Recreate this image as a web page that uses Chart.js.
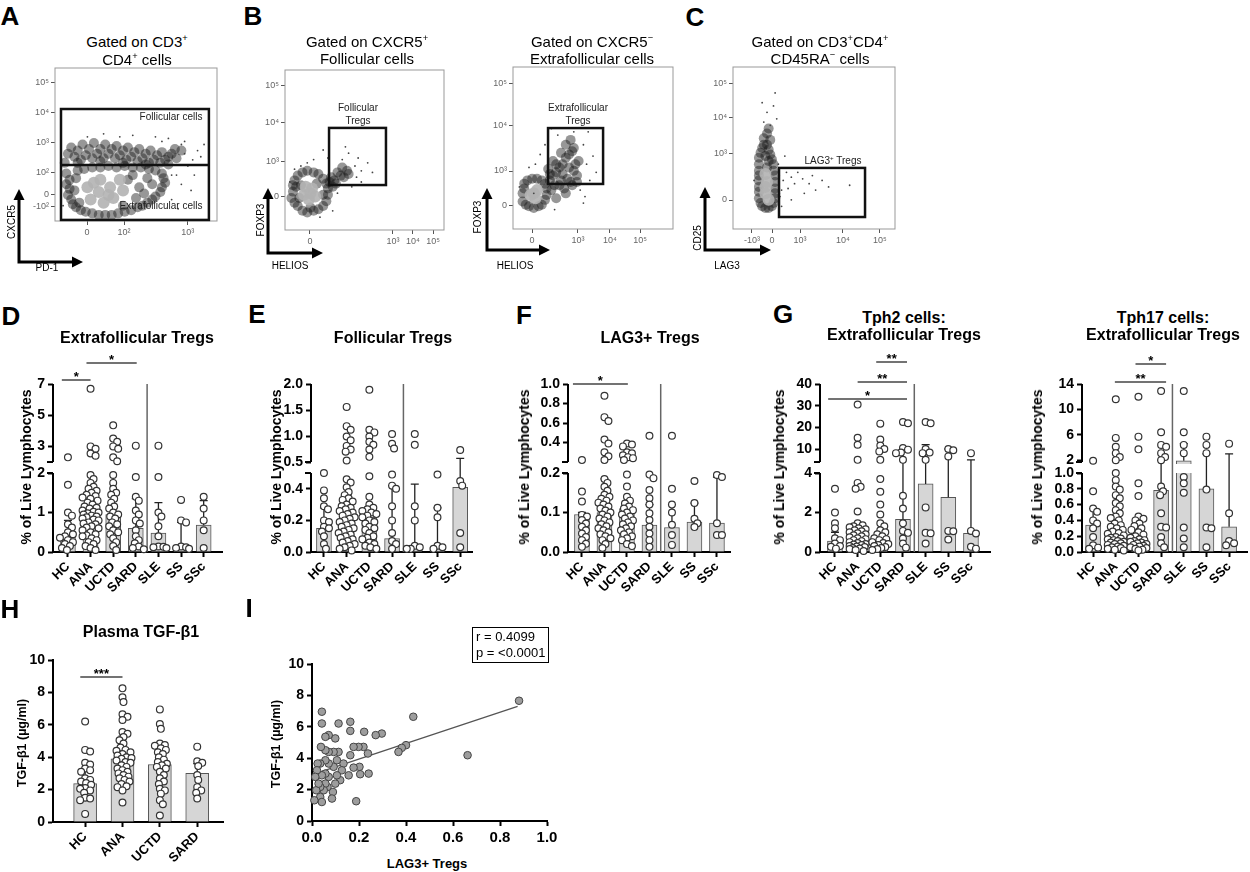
<!DOCTYPE html>
<html>
<head>
<meta charset="utf-8">
<script src="https://cdn.jsdelivr.net/npm/chart.js@4.4.1/dist/chart.umd.min.js"></script>
<style>
body { margin:0; background:#fff; width:1250px; height:872px; overflow:hidden; position:relative;
       font-family:"Liberation Sans", Arial, Helvetica, sans-serif; }
canvas { position:absolute; }
.t { position:absolute; white-space:nowrap; transform:translate(-50%,-50%); line-height:1; color:#000; z-index:2; }
sup { font-size:62%; vertical-align:super; line-height:0; }
.box { position:absolute; border:1.5px solid #000; z-index:2; font-size:13px; line-height:16px; padding:1px 3px; }
</style>
</head>
<body>
<script>
const FONT = '"Liberation Sans", Arial, Helvetica, sans-serif';

// ---- data ----
const cats = ['HC', 'ANA', 'UCTD', 'SARD', 'SLE', 'SS', 'SSc'];
const catsH = ['HC', 'ANA', 'UCTD', 'SARD'];

// D: Extrafollicular Tregs (% of live lymphocytes)
const extraPts = [
  [2.3, 1.7, 1.0, 0.92, 0.7, 0.62, 0.5, 0.45, 0.4, 0.36, 0.3, 0.25, 0.2, 0.15, 0.1, 0.05],
  [6.7, 3.0, 2.85, 2.55, 2.4, 1.95, 1.85, 1.75, 1.65, 1.6, 1.55, 1.5, 1.45, 1.42, 1.38, 1.35, 1.3, 1.25, 1.2, 1.15, 1.12, 1.1, 1.05, 1.02, 1.0, 0.98, 0.95, 0.92, 0.9, 0.88, 0.85, 0.82, 0.8, 0.75, 0.72, 0.7, 0.65, 0.62, 0.6, 0.55, 0.5, 0.45, 0.42, 0.4, 0.35, 0.3, 0.25, 0.2, 0.15, 0.1, 0.05],
  [4.35, 3.5, 3.3, 3.0, 2.85, 2.3, 2.05, 1.95, 1.75, 1.6, 1.5, 1.45, 1.35, 1.25, 1.15, 1.1, 1.0, 0.95, 0.9, 0.85, 0.75, 0.7, 0.65, 0.55, 0.5, 0.45, 0.35, 0.25, 0.15, 0.05],
  [3.05, 1.9, 1.4, 1.3, 1.05, 0.95, 0.8, 0.72, 0.55, 0.4, 0.3, 0.22, 0.14, 0.1, 0.07],
  [3.05, 1.9, 1.0, 0.9, 0.65, 0.4, 0.14, 0.13, 0.12, 0.1],
  [1.32, 0.8, 0.75, 0.14, 0.12, 0.1, 0.08],
  [1.4, 1.1, 0.8, 0.55, 0.1]
];
const extraMed = [0.4, 0.95, 0.95, 0.6, 0.48, 0.17, 0.68];
const extraHi = [0.8, 1.3, 1.45, 1.35, 1.25, 0.75, 1.3];
const extraTicks = [0, 1, 2, 3, 5, 7];
const extraTickLabels = ['0', '1', '2', '3', '5', '7'];

// E: Follicular Tregs
const follPts = [
  [0.5, 0.39, 0.34, 0.29, 0.27, 0.2, 0.19, 0.16, 0.15, 0.13, 0.1, 0.05, 0.02],
  [1.56, 1.19, 1.12, 0.99, 0.92, 0.81, 0.74, 0.7, 0.53, 0.46, 0.44, 0.41, 0.38, 0.36, 0.34, 0.33, 0.32, 0.3, 0.29, 0.28, 0.27, 0.26, 0.25, 0.24, 0.23, 0.22, 0.21, 0.2, 0.19, 0.18, 0.17, 0.16, 0.15, 0.14, 0.13, 0.12, 0.11, 0.1, 0.09, 0.08, 0.07, 0.06, 0.05, 0.04, 0.03, 0.02, 0.01],
  [1.89, 1.12, 1.07, 0.99, 0.89, 0.83, 0.74, 0.6, 0.48, 0.35, 0.3, 0.28, 0.27, 0.26, 0.25, 0.24, 0.23, 0.22, 0.2, 0.19, 0.18, 0.16, 0.15, 0.14, 0.12, 0.1, 0.09, 0.08, 0.06, 0.05, 0.04, 0.03, 0.02],
  [1.04, 0.85, 0.76, 0.49, 0.42, 0.4, 0.29, 0.2, 0.12, 0.07, 0.05, 0.02],
  [1.04, 0.83, 0.29, 0.2, 0.04, 0.03, 0.02, 0.02],
  [0.49, 0.28, 0.22, 0.04, 0.03, 0.02],
  [0.73, 0.45, 0.42, 0.12, 0.03]
];
const follMed = [0.15, 0.22, 0.22, 0.085, 0.03, 0.03, 0.41];
const follHi = [0.28, 0.28, 0.28, 0.42, 0.43, 0.28, 0.57];
const follTicks = [0, 0.2, 0.4, 0.5001, 1.0, 1.5, 2.0];
const follTickLabels = ['0.0', '0.2', '0.4', '0.5', '1.0', '1.5', '2.0'];

// F: LAG3+ Tregs
const lagPts = [
  [0.22, 0.153, 0.128, 0.094, 0.09, 0.081, 0.072, 0.064, 0.055, 0.047, 0.038, 0.03, 0.021, 0.013],
  [0.88, 0.66, 0.62, 0.43, 0.39, 0.3, 0.26, 0.22, 0.185, 0.175, 0.165, 0.155, 0.145, 0.14, 0.135, 0.13, 0.125, 0.12, 0.115, 0.11, 0.105, 0.1, 0.095, 0.09, 0.085, 0.08, 0.075, 0.07, 0.065, 0.06, 0.055, 0.05, 0.045, 0.04, 0.035, 0.03, 0.02, 0.01],
  [0.39, 0.38, 0.36, 0.3, 0.29, 0.27, 0.25, 0.24, 0.22, 0.196, 0.166, 0.14, 0.13, 0.123, 0.115, 0.11, 0.106, 0.1, 0.095, 0.09, 0.085, 0.08, 0.075, 0.07, 0.065, 0.06, 0.055, 0.05, 0.045, 0.04, 0.035, 0.03, 0.02, 0.015],
  [0.47, 0.196, 0.187, 0.157, 0.136, 0.12, 0.098, 0.081, 0.064, 0.047, 0.03, 0.013],
  [0.47, 0.16, 0.12, 0.1, 0.069, 0.043, 0.018],
  [0.18, 0.124, 0.084, 0.073, 0.063],
  [0.195, 0.19, 0.073, 0.043, 0.043]
];
const lagMed = [0.095, 0.1, 0.11, 0.068, 0.062, 0.076, 0.073];
const lagHi = [0.1, 0.185, 0.13, 0.12, 0.12, 0.124, 0.19];
const lagTicks = [0, 0.1, 0.2, 0.4, 0.6, 0.8, 1.0];
const lagTickLabels = ['0.0', '0.1', '0.2', '0.4', '0.6', '0.8', '1.0'];

// G: Tph2 cells : Extrafollicular Tregs
const tph2Pts = [
  [3.2, 2.0, 1.45, 1.2, 0.7, 0.6, 0.43, 0.3, 0.26, 0.17],
  [30.5, 15.2, 12.0, 5.0, 3.5, 3.3, 3.2, 2.05, 1.45, 1.35, 1.3, 1.25, 1.2, 1.15, 1.1, 1.05, 1.0, 0.95, 0.9, 0.85, 0.8, 0.75, 0.7, 0.65, 0.6, 0.55, 0.5, 0.45, 0.4, 0.38, 0.35, 0.3, 0.28, 0.25, 0.2, 0.18, 0.15, 0.1, 0.05],
  [21.7, 14.4, 11.6, 10.0, 8.9, 5.0, 3.7, 3.05, 2.4, 1.9, 1.45, 1.3, 1.1, 1.0, 0.9, 0.8, 0.7, 0.65, 0.6, 0.5, 0.45, 0.4, 0.35, 0.3, 0.25, 0.2, 0.15, 0.1],
  [22.5, 21.9, 10.5, 9.7, 8.4, 8.1, 5.0, 2.85, 2.2, 1.45, 1.07, 0.97, 0.68, 0.43, 0.22],
  [22.5, 21.9, 10.0, 8.4, 8.1, 5.0, 2.26, 0.97, 0.95, 0.43],
  [10.0, 9.4, 6.6, 1.07, 1.05, 0.63],
  [8.1, 1.07, 0.94, 0.26, 0.17]
];
const tph2Med = [0.55, 0.5, 0.5, 1.65, 3.45, 2.77, 0.94];
const tph2Hi = [1.0, 0.9, 0.9, 9.0, 12.0, 10.0, 5.0];
const tph2Ticks = [0, 2, 4, 10, 20, 30, 40];
const tph2TickLabels = ['0', '2', '4', '10', '20', '30', '40'];

// G: Tph17 cells : Extrafollicular Tregs
const tph17Pts = [
  [1.9, 0.77, 0.55, 0.51, 0.4, 0.36, 0.3, 0.19, 0.085, 0.055, 0.04],
  [11.6, 5.5, 4.1, 3.1, 2.5, 2.0, 1.0, 0.91, 0.83, 0.79, 0.72, 0.68, 0.62, 0.58, 0.53, 0.49, 0.45, 0.43, 0.4, 0.36, 0.34, 0.32, 0.3, 0.28, 0.26, 0.24, 0.23, 0.21, 0.19, 0.18, 0.17, 0.16, 0.15, 0.14, 0.13, 0.12, 0.11, 0.1, 0.09, 0.08, 0.07, 0.06, 0.05, 0.04, 0.03, 0.02],
  [12.0, 5.7, 3.7, 0.87, 0.71, 0.45, 0.42, 0.4, 0.36, 0.33, 0.3, 0.28, 0.25, 0.22, 0.2, 0.18, 0.16, 0.15, 0.14, 0.13, 0.12, 0.11, 0.1, 0.09, 0.08, 0.07, 0.06, 0.05, 0.04, 0.03, 0.02],
  [12.9, 6.4, 4.4, 4.1, 3.1, 2.5, 2.0, 0.83, 0.77, 0.72, 0.49, 0.32, 0.31, 0.19, 0.11, 0.06],
  [12.9, 6.4, 4.4, 3.1, 0.95, 0.87, 0.75, 0.31, 0.17, 0.06],
  [5.7, 4.4, 3.1, 0.79, 0.31, 0.3, 0.06],
  [4.6, 0.49, 0.14, 0.11, 0.085]
];
const tph17Med = [0.34, 0.13, 0.12, 0.78, 1.9, 0.8, 0.32];
const tph17Hi = [0.55, 0.3, 0.3, 2.0, 4.6, 3.0, 3.0];
const tph17Ticks = [0, 0.2, 0.4, 0.6, 0.8, 1.0, 2, 6, 10, 14];
const tph17TickLabels = ['0.0', '0.2', '0.4', '0.6', '0.8', '1.0', '2', '6', '10', '14'];

// H: Plasma TGF-b1 (ug/ml)
const tgfPts = [
  [6.2, 4.45, 4.35, 3.65, 3.55, 3.3, 3.2, 3.1, 2.7, 2.6, 2.5, 2.4, 2.3, 2.1, 2.05, 1.95, 1.8, 1.5, 1.45, 1.35, 0.5],
  [8.25, 7.7, 7.4, 6.65, 6.5, 6.3, 5.55, 5.45, 5.25, 5.05, 4.85, 4.6, 4.45, 4.4, 4.3, 4.2, 4.1, 4.0, 3.95, 3.9, 3.8, 3.7, 3.65, 3.5, 3.4, 3.3, 3.2, 3.1, 3.0, 2.9, 2.8, 2.7, 2.6, 2.5, 2.35, 2.2, 2.15, 1.95, 1.2],
  [6.95, 6.05, 5.75, 4.85, 4.75, 4.7, 4.55, 4.45, 4.3, 4.2, 4.0, 3.85, 3.7, 3.6, 3.5, 3.4, 3.3, 3.1, 2.9, 2.7, 2.5, 2.35, 2.05, 1.95, 1.75, 1.35, 1.1, 0.4],
  [4.65, 3.75, 3.65, 3.45, 2.9, 2.6, 2.15, 1.95, 1.8, 1.45]
];
const tgfMed = [2.37, 3.9, 3.55, 3.0];
const tgfLo = [1.45, 2.7, 2.4, 1.95];
const tgfHi = [3.2, 5.3, 4.6, 3.6];
const tgfTicks = [0, 2, 4, 6, 8, 10];

// I: LAG3+ Tregs vs TGF-b1
const corrX = [0.881, 0.431, 0.662, 0.40, 0.382, 0.368, 0.297, 0.271, 0.222, 0.238, 0.241, 0.219, 0.198, 0.202, 0.205, 0.177, 0.177, 0.156, 0.188, 0.163, 0.163, 0.163, 0.134, 0.127, 0.12, 0.113, 0.113, 0.106, 0.106, 0.099, 0.099, 0.092, 0.092, 0.089, 0.085, 0.071, 0.071, 0.071, 0.071, 0.066, 0.057, 0.057, 0.057, 0.057, 0.057, 0.05, 0.042, 0.042, 0.038, 0.035, 0.042, 0.035, 0.035, 0.042, 0.024, 0.021, 0.018, 0.01, 0.014, 0.028];
const corrY = [7.66, 6.64, 4.19, 4.83, 4.66, 4.40, 5.57, 5.47, 5.68, 4.30, 3.02, 4.72, 4.72, 3.45, 2.98, 4.72, 3.40, 2.91, 1.26, 6.32, 5.74, 4.19, 3.66, 3.23, 2.60, 6.21, 4.40, 3.87, 2.91, 5.26, 2.38, 4.40, 3.45, 1.85, 1.43, 5.47, 4.40, 3.66, 2.81, 2.17, 5.36, 4.51, 3.87, 3.02, 2.38, 1.96, 6.96, 6.21, 4.72, 3.66, 2.91, 2.17, 1.53, 1.21, 3.66, 3.23, 1.96, 1.32, 2.81, 2.38];
const fitLine = [{x: 0.01, y: 3.0}, {x: 0.875, y: 7.3}];

// A-C flow plots, positions in display channels (0-100)
const flowAxT = [19.8, 42.6, 82], flowAxL = ['0', '10²', '10³'];
const flowAyT = [90.8, 71.2, 51.6, 32, 17, 9.2], flowAyL = ['10⁵', '10⁴', '10³', '10²', '0', '-10²'];
const flowAdense = [[10,48],[17,50],[24,51],[31,50],[38,49],[45,48],[52,47],[59,46],[66,45],[72,44],[12,42],[19,43],[26,44],[33,44],[40,43],[47,42],[54,41],[61,40],[68,40],[75,41],[14,38],[28,39],[42,38],[56,37],[70,37],
  [14,46],[21,47],[28,47],[35,47],[42,46],[49,45],[56,44],[63,43],[70,42],[16,40],[23,41],[30,41],[37,41],[44,40],[51,39],[58,38],[65,38],[8,44],[6,38],[78,46],[74,47],
  [7,31],[7,24],[8,17],[11,11],[16,7],[23,5],[31,4],[39,5],[47,7],[54,10],[60,14],[65,19],[68,25],[66,31],[58,34],[48,35],[38,35],[28,35],[18,34],[13,28],[45,27],[52,22],[57,28],[50,15],[42,10],[15,12],
  [9,27],[9,21],[10,14],[13,9],[19,6],[27,4],[35,4],[43,6],[51,9],[57,12],[62,16],[66,22],[67,28],[62,33],[53,35],[43,36],[33,36],[23,35],[14,33],[12,20],[55,18],[48,30],[60,24]];
const flowAcore = [[20,22],[27,19],[34,22],[28,27],[22,14],[36,15],[42,20],[30,12],[40,27],[24,25],[33,17]];
const flowAsparse = [[80,44],[85,40],[78,50],[88,46],[82,36],[75,30],[78,24],[72,14],[90,42],[62,55],[48,56],[30,57],[20,55],[86,30],[92,50],[70,54],[76,8],[84,20],[4,40],[5,10],[72,30],[80,52],[66,52],[40,55]];

const flowB1xT = [15.7, 67.9, 80.5, 93.1], flowB1xL = ['0', '10³', '10⁴', '10⁵'];
const flowB1yT = [90.6, 66.9, 43.1, 21.2], flowB1yL = ['10⁵', '10⁴', '10³', '0'];
const flowB1dense = [[5,24],[6,31],[11,36],[18,36],[24,32],[27,26],[26,18],[21,13],[14,11],[8,15],[4,20],[10,28],[20,29],[24,22],[9,20],[16,14],[29,33],[33,36],[37,33],[32,29],[36,39],[40,35],[30,27],
  [7,27],[8,34],[14,37],[21,35],[26,29],[27,22],[24,15],[18,12],[11,12],[6,17],[5,28],[31,31],[35,34],[39,37],[28,30]];
const flowB1core = [[12,22],[17,26],[15,19],[19,21],[13,27],[16,23]];
const flowB1sparse = [[44,40],[48,37],[36,44],[27,45],[18,44],[42,27],[45,33],[52,42],[40,48],[24,50],[55,36],[33,23],[10,40],[6,38],[22,8],[30,12],[48,30],[38,52],[3,30],[14,42],[46,45]];

const flowB2xT = [11.9, 40.6, 60.6, 79.4], flowB2xL = ['0', '10³', '10⁴', '10⁵'];
const flowB2yT = [90.1, 63.6, 35.8, 14.8], flowB2yL = ['10⁵', '10⁴', '10³', '0'];
const flowB2dense = [[6,22],[7,28],[12,31],[18,30],[21,25],[20,18],[16,14],[10,14],[6,17],[23,30],[27,35],[31,40],[35,46],[38,50],[29,27],[34,31],[38,36],[41,42],[25,42],[22,37],[33,22],[37,27],[27,19],[30,47],[36,55],[40,29],[24,24],[31,34],
  [7,25],[9,30],[15,31],[20,28],[21,21],[18,15],[13,13],[8,15],[25,33],[29,38],[33,44],[37,48],[32,25],[36,29],[40,33],[39,40],[27,40],[23,34],[35,38],[30,30],[26,27],[33,52]];
const flowB2core = [[13,22],[15,24],[11,21],[14,19]];
const flowB2sparse = [[44,52],[17,46],[42,24],[46,40],[20,52],[28,58],[47,60],[14,40],[44,16],[50,45],[38,60],[10,38],[26,12],[52,35],[24,62],[48,30],[13,22],[4,26],[45,20]];

const flowCxT = [11.7, 24.1, 41.4, 67.9, 90.7], flowCxL = ['-10³', '0', '10³', '10⁴', '10⁵'];
const flowCyT = [90.1, 69.1, 46.9, 17.9], flowCyL = ['10⁵', '10⁴', '10³', '0'];
const flowCdense = [[18,14],[22,13],[25,16],[26,22],[26,29],[25,36],[24,43],[22,49],[19,52],[17,47],[16,40],[16,33],[16,26],[16,19],[21,38],[20,45],[23,55],[21,59],
  [17,16],[20,13],[24,14],[26,19],[26,25],[26,33],[25,40],[23,46],[21,52],[18,50],[16,44],[16,36],[16,30],[16,23],[22,42],[19,56],[22,62]];
const flowCcore = [[20,22],[21,29],[20,34],[22,18],[20,26]];
const flowCsparse = [[31,30],[34,25],[38,28],[44,22],[51,24],[59,26],[33,35],[29,20],[43,31],[72,27],[23,64],[27,68],[21,72],[28,40],[36,18],[47,28],[40,35],[55,30],[30,14],[25,76],[19,66],[26,84],[18,78],[32,45],[13,30],[30,24],[36,32],[49,33]];

// ---- setup ----
Chart.defaults.font.family = FONT;
Chart.defaults.color = '#000';
Chart.defaults.animation = false;
Chart.defaults.plugins.legend.display = false;
Chart.defaults.plugins.tooltip.enabled = false;

function segBounds(segs, gap, top, bottom) {
  const avail = bottom - top - gap * (segs.length - 1);
  let base = bottom;
  const out = [];
  segs.forEach(s => { const h = avail * s.frac; out.push([base, base - h]); base -= h + gap; });
  return out;
}
function segPixel(segs, gap, top, bottom, v) {
  const bd = segBounds(segs, gap, top, bottom);
  for (let i = 0; i < segs.length; i++) {
    const s = segs[i];
    if (v <= s.max || i === segs.length - 1) {
      const w = i > 0 ? Math.max(v, s.min) : v;
      return bd[i][0] - (w - s.min) / (s.max - s.min) * (bd[i][0] - bd[i][1]);
    }
  }
}

// linear scale with a gap (broken y axis)
class BrokenScale extends Chart.LinearScale {
  static id = 'broken';
  static defaults = {};
  brk() { return this.chart.config.options.scales[this.id].broken; }
  determineDataLimits() {
    const b = this.brk();
    this.min = b.segs[0].min;
    this.max = b.segs[b.segs.length - 1].max;
  }
  buildTicks() {
    this.start = this.min; this.end = this.max;
    return this.brk().ticks.map(v => ({value: v}));
  }
  getPixelForValue(v) {
    const b = this.brk();
    return segPixel(b.segs, b.gap, this.top, this.bottom, v);
  }
  getValueForPixel(p) {
    const b = this.brk();
    const bd = segBounds(b.segs, b.gap, this.top, this.bottom);
    for (let i = 0; i < bd.length; i++) {
      if (p >= bd[i][1] || i === bd.length - 1) {
        const s = b.segs[i];
        return s.min + (bd[i][0] - p) / (bd[i][0] - bd[i][1]) * (s.max - s.min);
      }
    }
  }
}
Chart.register(BrokenScale);

function addCanvas(box) {
  const c = document.createElement('canvas');
  c.width = box.r - box.l; c.height = box.b - box.t;
  c.style.left = box.l + 'px'; c.style.top = box.t + 'px';
  c.style.width = (box.r - box.l) + 'px'; c.style.height = (box.b - box.t) + 'px';
  document.body.appendChild(c);
  return c;
}
function pad(box, area, yW, xH) {
  return {left: area.l - box.l - yW, right: box.r - area.r, top: area.t - box.t, bottom: box.b - area.b - xH};
}

function txt(html, x, y, size, opt = {}) {
  const d = document.createElement('div');
  d.className = 't';
  d.innerHTML = html;
  d.style.left = x + 'px'; d.style.top = y + 'px';
  d.style.fontSize = size + 'px';
  if (opt.bold) d.style.fontWeight = 'bold';
  if (opt.color) d.style.color = opt.color;
  if (opt.rot) d.style.transform = 'translate(-50%,-50%) rotate(' + opt.rot + 'deg)';
  document.body.appendChild(d);
}

// simple beeswarm so dots do not pile on one x
function swarm(vals, idx, toPy, pxX, r, maxOff) {
  const placed = [], out = [];
  const order = vals.map((v, i) => i).sort((a, b) => vals[b] - vals[a]);
  order.forEach(i => {
    const py = toPy(vals[i]);
    let best = 0, bestD = -1;
    for (let k = 0; k <= 2 * maxOff; k++) {
      const off = (k % 2 ? 1 : -1) * Math.ceil(k / 2);
      let d = Infinity;
      placed.forEach(p => { d = Math.min(d, Math.hypot(p[0] - off, p[1] - py)); });
      if (d >= 1.45 * r) { best = off; bestD = d; break; }
      if (d > bestD) { bestD = d; best = off; }
    }
    placed.push([best, py]);
    out.push({x: idx + best / pxX, y: vals[i]});
  });
  return out;
}

function barPanel(p) {
  const yW = 30, xH = 40;
  const box = {l: p.area.l - 50, t: p.area.t - 40, r: p.area.r + 6, b: p.area.b + 55};
  const cv = addCanvas(box);
  const pxX = (p.area.r - p.area.l) / (p.xmax - p.xmin);
  const toPy = p.segs ? v => segPixel(p.segs, p.gap, p.area.t, p.area.b, v)
                      : v => p.area.b - (v - p.ymin) / (p.ymax - p.ymin) * (p.area.b - p.area.t);
  let pts = [];
  p.pts.forEach((vals, i) => { pts = pts.concat(swarm(vals, i, toPy, pxX, 3.4, p.spread)); });

  const yScale = p.segs
    ? {type: 'broken', broken: {segs: p.segs, gap: p.gap, ticks: p.ticks}}
    : {type: 'linear', min: p.ymin, max: p.ymax, afterBuildTicks: s => { s.ticks = p.ticks.map(v => ({value: v})); }};
  Object.assign(yScale, {
    border: {display: !p.segs, color: '#000', width: 2},
    grid: {drawOnChartArea: false, color: '#000', tickColor: '#000', tickLength: 5, tickWidth: 2},
    ticks: {autoSkip: false, padding: 3, color: '#000', font: {size: 14, weight: 'bold'},
            callback: (v, i) => p.tickLabels[i]},
    afterFit: s => { s.width = yW; s.paddingTop = 0; s.paddingBottom = 0; }
  });

  const deco = {
    id: 'deco',
    beforeDatasetsDraw(chart) {
      const ctx = chart.ctx, a = chart.chartArea, xs = chart.scales.x;
      ctx.save();
      if (p.sep !== undefined) {
        ctx.strokeStyle = '#666'; ctx.lineWidth = 1.5;
        const x = xs.getPixelForValue(p.sep);
        ctx.beginPath(); ctx.moveTo(x, a.bottom); ctx.lineTo(x, a.top); ctx.stroke();
      }
      p.sig.forEach(([f, t, lvl, label]) => {
        const x1 = xs.getPixelForValue(f), x2 = xs.getPixelForValue(t), y = a.top - lvl;
        ctx.strokeStyle = '#444'; ctx.lineWidth = 1.5;
        ctx.beginPath(); ctx.moveTo(x1, y); ctx.lineTo(x2, y); ctx.stroke();
        ctx.fillStyle = '#000'; ctx.font = 'bold 13px ' + FONT;
        ctx.textAlign = 'center'; ctx.textBaseline = 'alphabetic';
        ctx.fillText(label, (x1 + x2) / 2, y + 1);
      });
      ctx.restore();
    },
    beforeDatasetDraw(chart, args) {
      if (args.index !== 0 || !p.segs) return;
      const ctx = chart.ctx, a = chart.chartArea, ys = chart.scales.y;
      ctx.save(); ctx.beginPath();
      segBounds(p.segs, p.gap, ys.top, ys.bottom).forEach(([b, t]) => ctx.rect(a.left, t, a.right - a.left, b - t + 2));
      ctx.clip();
    },
    afterDatasetDraw(chart, args) {
      if (args.index !== 0) return;
      const ctx = chart.ctx, xs = chart.scales.x, ys = chart.scales.y;
      if (p.segs) ctx.restore();
      ctx.save(); ctx.strokeStyle = '#222'; ctx.lineWidth = 1.3;
      p.med.forEach((m, i) => {
        const x = xs.getPixelForValue(i), ym = ys.getPixelForValue(m), yh = ys.getPixelForValue(p.hi[i]);
        ctx.beginPath(); ctx.moveTo(x, ym); ctx.lineTo(x, yh); ctx.moveTo(x - 4, yh); ctx.lineTo(x + 4, yh); ctx.stroke();
        if (p.lo) {
          const yl = ys.getPixelForValue(p.lo[i]);
          ctx.beginPath(); ctx.moveTo(x, ym); ctx.lineTo(x, yl); ctx.moveTo(x - 4, yl); ctx.lineTo(x + 4, yl); ctx.stroke();
        }
      });
      ctx.restore();
    },
    afterDraw(chart) {
      if (!p.segs) return;
      const ctx = chart.ctx, ys = chart.scales.y, x = ys.right;
      const bd = segBounds(p.segs, p.gap, ys.top, ys.bottom);
      ctx.save(); ctx.strokeStyle = '#000'; ctx.lineWidth = 2;
      bd.forEach(([b, t], i) => {
        ctx.beginPath(); ctx.moveTo(x, i === 0 ? b + 1 : b); ctx.lineTo(x, t); ctx.stroke();
        if (i > 0) { ctx.beginPath(); ctx.moveTo(x - 6, b); ctx.lineTo(x, b); ctx.stroke(); }
        if (i < bd.length - 1) { ctx.beginPath(); ctx.moveTo(x - 6, t); ctx.lineTo(x, t); ctx.stroke(); }
      });
      ctx.restore();
    }
  };

  return new Chart(cv, {
    type: 'bar',
    data: {
      datasets: [
        {type: 'bar', order: 2, data: p.med.map((m, i) => ({x: i, y: m})),
         backgroundColor: '#d6d6d6', borderColor: '#555', borderWidth: 1, barThickness: p.barW},
        {type: 'scatter', order: 1, data: pts, clip: false,
         pointRadius: 3.4, pointBackgroundColor: '#fff', pointBorderColor: '#333', pointBorderWidth: 1.2}
      ]
    },
    options: {
      responsive: false, events: [],
      layout: {padding: pad(box, p.area, yW, xH)},
      scales: {
        x: {type: 'linear', min: p.xmin, max: p.xmax, offset: false,
            border: {display: true, color: '#000', width: 2},
            grid: {drawOnChartArea: false, offset: false, color: '#000', tickColor: '#000', tickLength: 5, tickWidth: 2},
            ticks: {autoSkip: false, minRotation: 45, maxRotation: 45, padding: 2, color: '#000',
                    font: {size: 13, weight: 'bold'}, callback: (v, i) => p.cats[i]},
            afterBuildTicks: s => { s.ticks = p.cats.map((c, i) => ({value: i})); },
            afterFit: s => { s.height = xH; s.paddingLeft = 0; s.paddingRight = 0; }},
        y: yScale
      }
    },
    plugins: [deco]
  });
}

function arrowHead(ctx, x, y, dir) {
  ctx.beginPath();
  if (dir === 'up') { ctx.moveTo(x, y); ctx.lineTo(x - 5.5, y + 11); ctx.lineTo(x + 5.5, y + 11); }
  else { ctx.moveTo(x, y); ctx.lineTo(x - 11, y - 5.5); ctx.lineTo(x - 11, y + 5.5); }
  ctx.closePath(); ctx.fill();
}

function flowPanel(p) {
  const yW = 28, xH = 18;
  const cv = addCanvas(p.box);
  const deco = {
    id: 'flowdeco',
    afterDatasetsDraw(chart) {
      const ctx = chart.ctx, a = chart.chartArea, xs = chart.scales.x, ys = chart.scales.y;
      ctx.save();
      ctx.strokeStyle = '#999'; ctx.lineWidth = 1;
      ctx.strokeRect(a.left, a.top, a.right - a.left, a.bottom - a.top);
      ctx.strokeStyle = '#111'; ctx.lineWidth = 2.5;
      p.gates.forEach(([x1, y1, x2, y2]) => {
        const px1 = xs.getPixelForValue(x1), px2 = xs.getPixelForValue(x2);
        const py1 = ys.getPixelForValue(y1), py2 = ys.getPixelForValue(y2);
        ctx.strokeRect(px1, py2, px2 - px1, py1 - py2);
      });
      (p.lines || []).forEach(([x1, y1, x2, y2]) => {
        ctx.beginPath(); ctx.moveTo(xs.getPixelForValue(x1), ys.getPixelForValue(y1));
        ctx.lineTo(xs.getPixelForValue(x2), ys.getPixelForValue(y2)); ctx.stroke();
      });
      // FACS style axis arrows
      const ar = p.arrow, ox = ar.x - p.box.l, oy = ar.y - p.box.t;
      ctx.strokeStyle = '#000'; ctx.fillStyle = '#000'; ctx.lineWidth = 3;
      ctx.beginPath(); ctx.moveTo(ox, ar.up - p.box.t + 8); ctx.lineTo(ox, oy); ctx.lineTo(ar.right - p.box.l - 8, oy); ctx.stroke();
      arrowHead(ctx, ox, ar.up - p.box.t, 'up');
      arrowHead(ctx, ar.right - p.box.l, oy, 'right');
      ctx.restore();
    }
  };
  const axis = (ticksArr, labels, isX) => ({
    type: 'linear', min: 0, max: 100,
    border: {display: false},
    grid: {drawOnChartArea: false, color: '#555', tickColor: '#555', tickLength: 4, tickWidth: 1},
    ticks: {autoSkip: false, maxRotation: 0, padding: 2, color: '#666', font: {size: 9},
            callback: (v, i) => labels[i]},
    afterBuildTicks: s => { s.ticks = ticksArr.map(v => ({value: v})); },
    afterFit: s => {
      if (isX) { s.height = xH; s.paddingLeft = 0; s.paddingRight = 0; }
      else { s.width = yW; s.paddingTop = 0; s.paddingBottom = 0; }
    }
  });
  const pt = a => a.map(([x, y]) => ({x, y}));
  return new Chart(cv, {
    type: 'scatter',
    data: {
      datasets: [
        {order: 3, data: pt(p.dense), pointRadius: 5, pointBackgroundColor: 'rgba(25,25,25,0.45)', pointBorderWidth: 0},
        {order: 2, data: pt(p.core), pointRadius: 6, pointBackgroundColor: 'rgba(178,178,178,0.9)', pointBorderWidth: 0},
        {order: 1, data: pt(p.sparse), pointRadius: 0.9, pointBackgroundColor: '#444', pointBorderWidth: 0}
      ]
    },
    options: {
      responsive: false, events: [],
      layout: {padding: pad(p.box, p.area, yW, xH)},
      scales: {x: axis(p.xt, p.xl, true), y: axis(p.yt, p.yl, false)}
    },
    plugins: [deco]
  });
}

// ---- flow plots ----
flowPanel({area: {l: 55, r: 217, t: 68, b: 221}, box: {l: 0, t: 58, r: 227, b: 276},
  xt: flowAxT, xl: flowAxL, yt: flowAyT, yl: flowAyL,
  dense: flowAdense, core: flowAcore, sparse: flowAsparse,
  gates: [[3.7, 0.7, 95, 73.2]], lines: [[3.7, 36.6, 95, 36.6]],
  arrow: {x: 19, y: 262, up: 189, right: 83}});
flowPanel({area: {l: 285, r: 444, t: 70, b: 230}, box: {l: 250, t: 60, r: 454, b: 276},
  xt: flowB1xT, xl: flowB1xL, yt: flowB1yT, yl: flowB1yL,
  dense: flowB1dense, core: flowB1core, sparse: flowB1sparse,
  gates: [[27.7, 28.1, 63.5, 63.8]],
  arrow: {x: 268, y: 253, up: 188, right: 323}});
flowPanel({area: {l: 513, r: 673, t: 67, b: 229}, box: {l: 470, t: 57, r: 683, b: 276},
  xt: flowB2xT, xl: flowB2xL, yt: flowB2yT, yl: flowB2yL,
  dense: flowB2dense, core: flowB2core, sparse: flowB2sparse,
  gates: [[21.9, 27.8, 56.3, 62.3]],
  arrow: {x: 487, y: 250, up: 188, right: 550}});
flowPanel({area: {l: 733, r: 895, t: 67, b: 229}, box: {l: 690, t: 57, r: 905, b: 276},
  xt: flowCxT, xl: flowCxL, yt: flowCyT, yl: flowCyL,
  dense: flowCdense, core: flowCcore, sparse: flowCsparse,
  gates: [[28.4, 7.4, 81.5, 37.7]],
  arrow: {x: 705, y: 250, up: 187, right: 771}});

// ---- bar + dot panels ----
barPanel({area: {l: 53, r: 222, t: 384, b: 552}, xmin: -0.66, xmax: 6.81, cats: cats,
  segs: [{min: 0, max: 2, frac: 0.503}, {min: 2, max: 7, frac: 0.497}], gap: 11,
  ticks: extraTicks, tickLabels: extraTickLabels,
  pts: extraPts, med: extraMed, hi: extraHi, barW: 15, spread: 8, sep: 3.5,
  sig: [[-0.27, 1, 4, '*'], [0.82, 3.04, 21, '*']]});
barPanel({area: {l: 311, r: 472, t: 384, b: 552}, xmin: -0.57, xmax: 6.52, cats: cats,
  segs: [{min: 0, max: 0.5, frac: 0.503}, {min: 0.5, max: 2.0, frac: 0.497}], gap: 11,
  ticks: follTicks, tickLabels: follTickLabels,
  pts: follPts, med: follMed, hi: follHi, barW: 15, spread: 8, sep: 3.5, sig: []});
barPanel({area: {l: 568, r: 730, t: 384, b: 552}, xmin: -0.62, xmax: 6.58, cats: cats,
  segs: [{min: 0, max: 0.2, frac: 0.503}, {min: 0.2, max: 1.0, frac: 0.497}], gap: 11,
  ticks: lagTicks, tickLabels: lagTickLabels,
  pts: lagPts, med: lagMed, hi: lagHi, barW: 15, spread: 8, sep: 3.5,
  sig: [[-0.4, 2.04, 0, '*']]});
barPanel({area: {l: 820, r: 990, t: 384, b: 552}, xmin: -0.66, xmax: 6.84, cats: cats,
  segs: [{min: 0, max: 4, frac: 0.503}, {min: 4, max: 40, frac: 0.497}], gap: 11,
  ticks: tph2Ticks, tickLabels: tph2TickLabels,
  pts: tph2Pts, med: tph2Med, hi: tph2Hi, barW: 15, spread: 8, sep: 3.5,
  sig: [[-0.3, 3.18, -15, '*'], [1, 3.18, 2, '**'], [1.82, 3.18, 22, '**']]});
barPanel({area: {l: 1082, r: 1247, t: 384, b: 552}, xmin: -0.49, xmax: 6.79, cats: cats,
  segs: [{min: 0, max: 1.0, frac: 0.503}, {min: 1.7, max: 14, frac: 0.497}], gap: 11,
  ticks: tph17Ticks, tickLabels: tph17TickLabels,
  pts: tph17Pts, med: tph17Med, hi: tph17Hi, barW: 15, spread: 8, sep: 3.5,
  sig: [[0.96, 3.22, 2, '**'], [1.87, 3.22, 20, '*']]});
barPanel({area: {l: 53, r: 223, t: 660, b: 822}, xmin: -0.86, xmax: 3.69, cats: catsH,
  ymin: 0, ymax: 10, ticks: tgfTicks, tickLabels: tgfTicks.map(String),
  pts: tgfPts, med: tgfMed, lo: tgfLo, hi: tgfHi, barW: 23, spread: 12,
  sig: [[-0.13, 1, -17, '***']]});

// ---- I: correlation ----
(function () {
  const area = {l: 312, r: 547, t: 664, b: 821}, box = {l: 262, t: 624, r: 566, b: 850};
  const yW = 30, xH = 26;
  const cv = addCanvas(box);
  const axisCommon = {
    border: {display: true, color: '#000', width: 2},
    grid: {drawOnChartArea: false, color: '#000', tickColor: '#000', tickLength: 5, tickWidth: 2}
  };
  new Chart(cv, {
    type: 'scatter',
    data: {
      datasets: [
        {type: 'line', order: 2, data: fitLine, borderColor: '#555', borderWidth: 1.3, pointRadius: 0},
        {type: 'scatter', order: 1, data: corrX.map((x, i) => ({x, y: corrY[i]})), clip: false,
         pointRadius: 3.8, pointBackgroundColor: '#9d9d9d', pointBorderColor: '#444', pointBorderWidth: 1}
      ]
    },
    options: {
      responsive: false, events: [],
      layout: {padding: pad(box, area, yW, xH)},
      scales: {
        x: Object.assign({type: 'linear', min: 0, max: 1,
          ticks: {stepSize: 0.2, autoSkip: false, maxRotation: 0, padding: 3, color: '#000',
                  font: {size: 15, weight: 'bold'}, callback: v => v.toFixed(1)},
          afterFit: s => { s.height = xH; s.paddingLeft = 0; s.paddingRight = 0; }}, axisCommon),
        y: Object.assign({type: 'linear', min: 0, max: 10,
          ticks: {stepSize: 2, autoSkip: false, padding: 3, color: '#000',
                  font: {size: 14, weight: 'bold'}},
          afterFit: s => { s.width = yW; s.paddingTop = 0; s.paddingBottom = 0; }}, axisCommon)
      }
    }
  });
})();

// ---- texts ----
[['A', 10, 16], ['B', 253, 16], ['C', 695, 17], ['D', 11, 316], ['E', 257, 314], ['F', 524, 315],
 ['G', 783, 314], ['H', 10, 609], ['I', 249, 608]].forEach(([s, x, y]) => txt(s, x, y, 26, {bold: true}));

txt('Gated on CD3<sup>+</sup>', 137, 41, 15); txt('CD4<sup>+</sup> cells', 137, 59, 15);
txt('Gated on CXCR5<sup>+</sup>', 367, 41, 15); txt('Follicular cells', 367, 58, 15);
txt('Gated on CXCR5<sup>−</sup>', 592, 41, 15); txt('Extrafollicular cells', 592, 58, 15);
txt('Gated on CD3<sup>+</sup>CD4<sup>+</sup>', 820, 41, 15); txt('CD45RA<sup>−</sup> cells', 820, 58, 15);

txt('Follicular cells', 171, 117, 10, {color: '#222'});
txt('Extrafollicular cells', 161, 206, 10, {color: '#222'});
txt('Follicular', 358, 108, 10, {color: '#222'}); txt('Tregs', 358, 121, 10, {color: '#222'});
txt('Extrafollicular', 578, 108, 10, {color: '#222'}); txt('Tregs', 578, 121, 10, {color: '#222'});
txt('LAG3<sup>+</sup> Tregs', 833, 161, 10, {color: '#222'});

txt('CXCR5', 12, 222, 10, {rot: -90}); txt('PD-1', 47, 268, 10);
txt('FOXP3', 261, 220, 10, {rot: -90}); txt('HELIOS', 290, 266, 10);
txt('FOXP3', 478, 217, 10, {rot: -90}); txt('HELIOS', 515, 266, 10);
txt('CD25', 698, 238, 10, {rot: -90}); txt('LAG3', 727, 266, 10);

txt('Extrafollicular Tregs', 137, 338, 16, {bold: true});
txt('Follicular Tregs', 393, 338, 16, {bold: true});
txt('LAG3+ Tregs', 650, 338, 16, {bold: true});
txt('Tph2 cells:', 904, 318, 16, {bold: true}); txt('Extrafollicular Tregs', 904, 335, 16, {bold: true});
txt('Tph17 cells:', 1163, 318, 16, {bold: true}); txt('Extrafollicular Tregs', 1163, 335, 16, {bold: true});
txt('Plasma TGF-β1', 141, 632, 16, {bold: true});

[26, 276, 524, 779, 1037].forEach(x => txt('% of Live Lymphocytes', x, 467, 14, {bold: true, rot: -90}));
txt('TGF-β1 (µg/ml)', 22, 743, 12.5, {bold: true, rot: -90});
txt('TGF-β1 (µg/ml)', 276, 744, 12.5, {bold: true, rot: -90});
txt('LAG3+ Tregs', 427, 863, 13, {bold: true});

const note = document.createElement('div');
note.className = 'box';
note.style.left = '472px'; note.style.top = '627px';
note.innerHTML = 'r = 0.4099<br>p = &lt;0.0001';
document.body.appendChild(note);
</script>
</body>
</html>
